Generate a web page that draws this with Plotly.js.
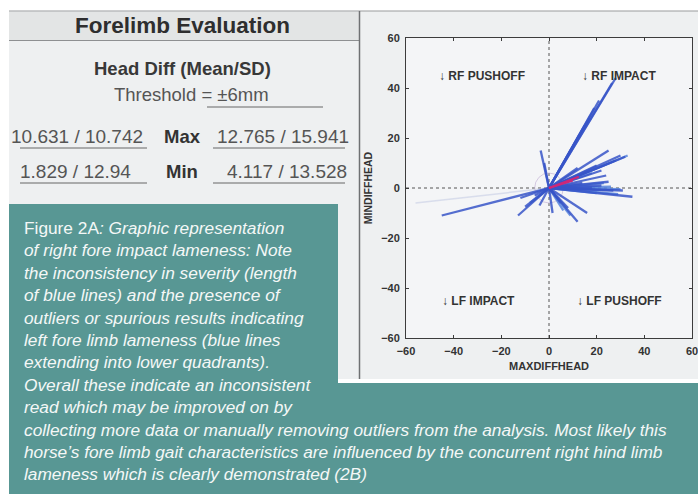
<!DOCTYPE html>
<html>
<head>
<meta charset="utf-8">
<script src="https://cdn.plot.ly/plotly-3.0.1.min.js"></script>
<style>html,body{margin:0;padding:0;background:#fff;}#chart{width:698px;height:494px;}</style>
</head>
<body>
<div id="chart"></div>
<script>
// ---- data ----
const axisTicks = [-60, -40, -20, 0, 20, 40, 60];
const darkX = [28, 26.5, 21, 19, 17, 15, 32, 30, 28, 25, 22, 20, 24, 31, 35, 27, 22, 18, 14, 25, -3.5, -2, -45, -13, -10, -12, -4, 1.5, 12, 16, 8, -6, 5, 10, 12];
const darkY = [44, 42, 35, 32, 28, 25, 12.5, 13, 11, 15, 7, 9, 5, -1, -3.5, -1, 1, 0, 2, 2.5, 15, 10, -11, -11, -7.5, -4, -7, -10, -13.5, -10, -8, -3, -6, 4, 8];
const lightX = [33, 29, 23, 26, 20, 6, -8, 9, 18, 30];
const lightY = [13, -2.5, 2, 0.5, -2, -9, -6, -11, 6, -0.5];
const redX = [12.5, 10];
const redY = [4.5, 3];
const faintX = [-56];
const faintY = [-6];
const quadrantLabels = ['↓ RF PUSHOFF', '↓ RF IMPACT', '↓ LF IMPACT', '↓ LF PUSHOFF'];
const quadrantX = [-28, 29.5, -29.5, 29.5];
const quadrantY = [45, 45, -45, -45];
const tableTitle = 'Forelimb Evaluation';
const tableSub = 'Head Diff (Mean/SD)';
const tableThreshold = 'Threshold = ±6mm';
const rowLabels = ['Max', 'Min'];
const leftValues = ['10.631 / 10.742', '1.829 / 12.94'];
const rightValues = ['12.765 / 15.941', '4.117 / 13.528'];
const captionLines = [
  'Figure 2A<i>: Graphic representation</i>',
  '<i>of right fore impact lameness: Note</i>',
  '<i>the inconsistency in severity (length</i>',
  '<i>of blue lines) and the presence of</i>',
  '<i>outliers or spurious results indicating</i>',
  '<i>left fore limb lameness (blue lines</i>',
  '<i>extending into lower quadrants).</i>',
  '<i>Overall these indicate an inconsistent</i>',
  '<i>read which may be improved on by</i>',
  '<i>collecting more data or manually removing outliers from the analysis. Most likely this</i>',
  '<i>horse’s fore limb gait characteristics are influenced by the concurrent right hind limb</i>',
  '<i>lameness which is clearly demonstrated (2B)</i>'
];

// ---- geometry helpers (pixel -> paper, plot area is 406..692 x 38..338) ----
const L = 406, R = 692, T = 38, B = 338, W = 698, H = 494;
const px = x => (x - L) / (R - L);
const py = y => (B - y) / (B - T);

function rays(xs, ys) {
  const x = [], y = [];
  xs.forEach((v, i) => { x.push(0, v, null); y.push(0, ys[i], null); });
  return {x, y};
}

const dk = rays(darkX, darkY), lt = rays(lightX, lightY), rd = rays(redX, redY), fa = rays(faintX, faintY);
const traces = [
  {type: 'scatter', mode: 'lines', x: fa.x, y: fa.y, line: {color: 'rgba(190,198,225,0.5)', width: 1.5}, hoverinfo: 'skip'},
  {type: 'scatter', mode: 'lines', x: lt.x, y: lt.y, line: {color: 'rgba(85,130,220,0.85)', width: 2.3}, hoverinfo: 'skip'},
  {type: 'scatter', mode: 'lines', x: dk.x, y: dk.y, line: {color: 'rgba(55,85,200,0.85)', width: 2.3}, hoverinfo: 'skip'},
  {type: 'scatter', mode: 'lines', x: rd.x, y: rd.y, line: {color: 'rgb(205,40,120)', width: 2}, hoverinfo: 'skip'}
];

const sans = 'Liberation Sans, Arial, sans-serif';
const shapes = [
  {type: 'rect', xref: 'paper', yref: 'paper', x0: px(9), x1: px(698), y0: py(11), y1: py(383), fillcolor: '#eef0f1', line: {width: 0}, layer: 'below'},
  {type: 'rect', xref: 'paper', yref: 'paper', x0: 0, x1: 1, y0: 0, y1: 1, fillcolor: '#f4f5f7', line: {width: 0}, layer: 'below'},
  {type: 'rect', xref: 'paper', yref: 'paper', x0: px(9), x1: px(359), y0: py(40), y1: py(12), fillcolor: '#e3e5e5', line: {width: 0}, layer: 'below'},
  {type: 'line', xref: 'paper', yref: 'paper', x0: px(9), x1: px(698), y0: py(11), y1: py(11), line: {color: '#9a9c9e', width: 1.2}, layer: 'below'},
  {type: 'line', xref: 'paper', yref: 'paper', x0: px(9), x1: px(359), y0: py(40.5), y1: py(40.5), line: {color: '#8e9092', width: 1.2}, layer: 'below'},
  {type: 'line', xref: 'paper', yref: 'paper', x0: px(359.5), x1: px(359.5), y0: py(11), y1: py(380), line: {color: '#6f7173', width: 1.5}, layer: 'below'},
  {type: 'rect', xref: 'paper', yref: 'paper', x0: px(338), x1: px(698), y0: py(383), y1: py(379), fillcolor: '#ffffff', line: {width: 0}, layer: 'below'},
  {type: 'line', xref: 'paper', yref: 'paper', x0: px(207), x1: px(323), y0: py(107), y1: py(107), line: {color: '#666', width: 1}, layer: 'below'},
  {type: 'line', xref: 'paper', yref: 'paper', x0: px(20), x1: px(147), y0: py(148), y1: py(148), line: {color: '#666', width: 1}, layer: 'below'},
  {type: 'line', xref: 'paper', yref: 'paper', x0: px(213), x1: px(345), y0: py(148), y1: py(148), line: {color: '#666', width: 1}, layer: 'below'},
  {type: 'line', xref: 'paper', yref: 'paper', x0: px(20), x1: px(147), y0: py(183), y1: py(183), line: {color: '#666', width: 1}, layer: 'below'},
  {type: 'line', xref: 'paper', yref: 'paper', x0: px(213), x1: px(345), y0: py(183), y1: py(183), line: {color: '#666', width: 1}, layer: 'below'},
  {type: 'line', xref: 'x', yref: 'y', x0: 0, x1: 0, y0: -60, y1: 60, line: {color: '#555', width: 1, dash: 'dot'}, layer: 'below'},
  {type: 'line', xref: 'x', yref: 'y', x0: -60, x1: 60, y0: 0, y1: 0, line: {color: '#555', width: 1, dash: 'dot'}, layer: 'below'},
  {type: 'circle', xref: 'x', yref: 'y', x0: -6, x1: 6, y0: -6, y1: 6, line: {color: 'rgba(190,170,210,0.6)', width: 1}, layer: 'below'},
  {type: 'path', xref: 'paper', yref: 'paper', layer: 'above', fillcolor: '#589794', line: {width: 0},
   path: `M ${px(9)},${py(204)} L ${px(338)},${py(204)} L ${px(338)},${py(383)} L ${px(698)},${py(383)} L ${px(698)},${py(494)} L ${px(9)},${py(494)} Z`}
];

const annotations = [];
const centered = (x, y, text, font) => ({xref: 'paper', yref: 'paper', x: px(x), y: py(y), xanchor: 'center', yanchor: 'middle', text, showarrow: false, font});
quadrantLabels.forEach((t, i) => annotations.push({xref: 'x', yref: 'y', x: quadrantX[i], y: quadrantY[i], xanchor: 'center', yanchor: 'middle', text: t, showarrow: false,
  font: {family: sans, size: 12, color: '#333', weight: 'bold'}}));
annotations.push(centered(182, 26, tableTitle, {family: sans, size: 22.5, color: '#2e2e2e', weight: 'bold'}));
annotations.push(centered(182, 68, tableSub, {family: sans, size: 18.5, color: '#383838', weight: 'bold'}));
annotations.push(centered(191, 95, tableThreshold, {family: sans, size: 18.5, color: '#555'}));
const rowY = [136, 171];
const leftCx = [77, 75], rightCx = [283, 287];
rowLabels.forEach((t, i) => {
  annotations.push(centered(182, rowY[i], t, {family: sans, size: 18.5, color: '#333', weight: 'bold'}));
  annotations.push(centered(leftCx[i], rowY[i], leftValues[i], {family: sans, size: 19, color: '#555'}));
  annotations.push(centered(rightCx[i], rowY[i], rightValues[i], {family: sans, size: 19, color: '#555'}));
});
captionLines.forEach((t, i) => annotations.push({xref: 'paper', yref: 'paper', x: px(22), y: py(228 + i * 22.4), xanchor: 'left', yanchor: 'middle',
  text: t, showarrow: false, font: {family: sans, size: 17.3, color: '#f4f7f7'}}));

const axisCommon = {range: [-60, 60], tickvals: axisTicks, showgrid: false, zeroline: false, showline: true, mirror: 'ticks',
  linecolor: '#3c3c3c', linewidth: 1, ticks: 'inside', ticklen: 3, tickcolor: '#3c3c3c', ticklabeloverflow: 'allow',
  tickfont: {family: sans, size: 11, color: '#333', weight: 'bold'}, fixedrange: true};

const layout = {
  width: W, height: H, margin: {l: L, r: W - R, t: T, b: H - B},
  paper_bgcolor: '#ffffff', plot_bgcolor: 'rgba(0,0,0,0)', showlegend: false,
  xaxis: Object.assign({}, axisCommon, {ticklabelstandoff: 3, title: {text: 'MAXDIFFHEAD', font: {family: sans, size: 11, color: '#333', weight: 'bold'}, standoff: 6}}),
  yaxis: Object.assign({}, axisCommon, {ticklabelstandoff: 3, title: {text: 'MINDIFFHEAD', font: {family: sans, size: 10.5, color: '#333', weight: 'bold'}, standoff: 6}}),
  shapes, annotations
};
Plotly.newPlot('chart', traces, layout, {displayModeBar: false, staticPlot: true});
</script>
</body>
</html>
